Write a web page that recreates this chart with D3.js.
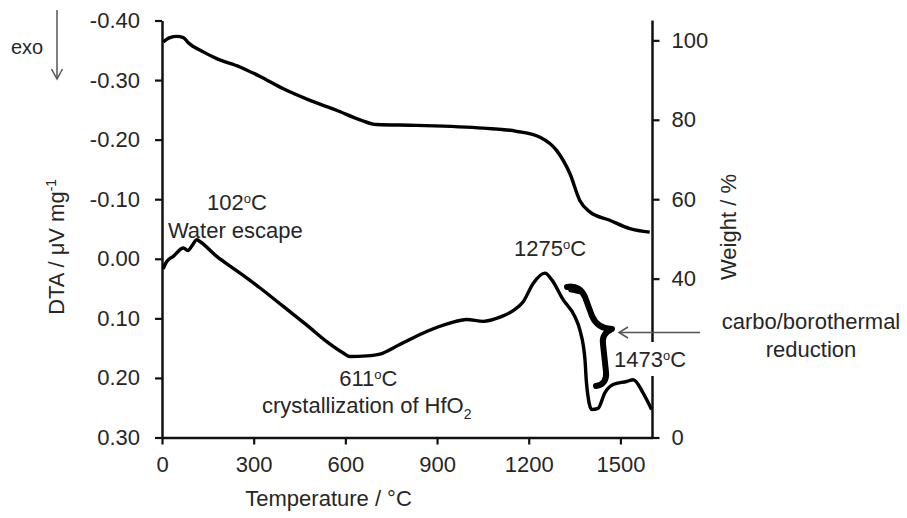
<!DOCTYPE html>
<html><head><meta charset="utf-8">
<script src="https://cdn.jsdelivr.net/npm/d3@7"></script>
<style>
body{margin:0;background:#fff;}
text{font-family:"Liberation Sans",Arial,sans-serif;fill:#262626;}
</style></head>
<body><svg id="c" width="907" height="518"></svg>
<script>
// ---- data ----
const dtaTemp  = [4,15,37,70,86,97,114,124,179,233,277,321,397,473,539,593,615,670,713,778,866,942,997,1051,1106,1149,1182,1215,1253,1275,1313,1351,1367,1384,1389,1406,1427,1449,1476,1520,1542,1574,1602];
const dtaValue = [0.017,0.005,-0.004,-0.018,-0.014,-0.021,-0.032,-0.029,-0.004,0.016,0.032,0.049,0.080,0.111,0.139,0.158,0.164,0.163,0.160,0.144,0.122,0.108,0.102,0.105,0.098,0.087,0.072,0.041,0.024,0.035,0.069,0.097,0.119,0.169,0.209,0.253,0.251,0.225,0.211,0.206,0.203,0.225,0.253];
const tgTemp   = [4,26,48,70,86,135,179,255,321,397,484,571,648,702,833,1051,1160,1237,1291,1335,1367,1400,1465,1531,1596];
const tgWeight = [99.6,100.7,101.0,100.7,99.4,97.1,95.4,93.3,90.9,87.8,84.9,82.4,80.0,78.8,78.6,77.9,77.1,75.6,72.3,66.4,59.7,56.8,54.7,52.6,51.7];
const xTicks = [0,300,600,900,1200,1500];
const yLeftTicks = [-0.40,-0.30,-0.20,-0.10,0.00,0.10,0.20,0.30];
const yLeftLabels = ["-0.40","-0.30","-0.20","-0.10","0.00","0.10","0.20","0.30"];
const yRightTicks = [0,40,60,80,100];   // the 20 tick is hidden by the 1473°C label in the original

const svg = d3.select("#c");
const x  = d3.scaleLinear([0,1605],[162,652.5]);
const yL = d3.scaleLinear([-0.40,0.30],[20.5,437.5]);
const yR = d3.scaleLinear([0,105],[437.5,20.5]);
const FS = 22;

// axes
const ax = svg.append("g").attr("transform",`translate(0,${yL(0.30)})`)
  .call(d3.axisBottom(x).tickValues(xTicks).tickFormat(d3.format("d")).tickSize(7).tickPadding(12).tickSizeOuter(0));
const al = svg.append("g").attr("transform",`translate(${x(0)},0)`)
  .call(d3.axisLeft(yL).tickValues(yLeftTicks).tickFormat((d,i)=>yLeftLabels[i]).tickSize(7).tickPadding(15).tickSizeOuter(0));
const ar = svg.append("g").attr("transform",`translate(${x(1605)},0)`)
  .call(d3.axisRight(yR).tickValues(yRightTicks).tickSize(7).tickPadding(12).tickSizeOuter(0));
[ax,al,ar].forEach(g=>{
  g.select(".domain").attr("stroke","#111").attr("stroke-width",2.5);
  g.selectAll(".tick line").attr("stroke","#111").attr("stroke-width",2.2);
  g.selectAll(".tick text").attr("font-size",FS).attr("fill","#262626").attr("font-family","Liberation Sans, Arial, sans-serif");
});
ar.select(".domain").attr("d",`M0,${yR(0)}V${yR(105)}`);

// curves
const lineDTA = d3.line().x((d,i)=>x(dtaTemp[i])).y(d=>yL(d)).curve(d3.curveMonotoneX);
const lineTG  = d3.line().x((d,i)=>x(tgTemp[i])).y(d=>yR(d)).curve(d3.curveMonotoneX);
svg.append("path").attr("d",lineTG(tgWeight)).attr("fill","none").attr("stroke","#000").attr("stroke-width",3.4).attr("stroke-linejoin","round");
svg.append("path").attr("d",lineDTA(dtaValue)).attr("fill","none").attr("stroke","#000").attr("stroke-width",3.4).attr("stroke-linejoin","round");

// axis titles
svg.append("text").attr("transform",`translate(64,${yL(-0.02)}) rotate(-90)`).attr("text-anchor","middle").attr("font-size",FS)
  .html('DTA / μV mg<tspan dy="-8" font-size="14">-1</tspan>');
svg.append("text").attr("transform",`translate(736,${yR(53)}) rotate(-90)`).attr("text-anchor","middle").attr("font-size",FS)
  .text("Weight / %");
svg.append("text").attr("x",x(545)).attr("y",506).attr("text-anchor","middle").attr("font-size",FS).text("Temperature / °C");

// exo arrow
svg.append("text").attr("x",11).attr("y",54).attr("font-size",20).text("exo");
const gray="#555";
svg.append("line").attr("x1",57).attr("x2",57).attr("y1",10).attr("y2",78).attr("stroke",gray).attr("stroke-width",1.5);
svg.append("path").attr("d","M51.5,69 L57,79 L62.5,69").attr("fill","none").attr("stroke",gray).attr("stroke-width",1.5);

// annotations
function label(xp,yp,html,anchor="middle"){
  return svg.append("text").attr("x",xp).attr("y",yp).attr("text-anchor",anchor).attr("font-size",FS).html(html);
}
const deg = '<tspan dy="-7" font-size="13">o</tspan><tspan dy="7">C</tspan>';
label(x(245),210,'102'+deg);
label(x(240),238,'Water escape');
label(x(1270),256,'1275'+deg);
label(x(675),386,'611'+deg);
label(x(670),413,'crystallization of HfO<tspan dy="6" font-size="14">2</tspan>');
// 1473 label with white background
svg.append("rect").attr("x",614).attr("y",342).attr("width",90).attr("height",34).attr("fill","#fff");
label(614,367,'1473'+deg,"start");

// carbo/borothermal arrow
svg.append("line").attr("x1",619).attr("x2",700).attr("y1",332.5).attr("y2",332.5).attr("stroke",gray).attr("stroke-width",1.5);
svg.append("path").attr("d","M628,327 L619,332.5 L628,338").attr("fill","none").attr("stroke",gray).attr("stroke-width",1.5);
label(811,329,'carbo/borothermal');
label(811,357,'reduction');

// brace
const bx = x(1320), by = yL(0.05);
svg.append("path").attr("transform",`translate(${bx},${by})`)
  .attr("d",`M${567-bx+0},${287-by} C${576-bx},${285-by} ${582-bx},${290-by} ${585-bx},${297-by} L${592-bx},${316-by} C${596-bx},${325-by} ${603-bx},${329-by} ${612-bx},${329-by} C${605-bx},${332-by} ${602-bx},${337-by} ${603-bx},${344-by} L${606-bx},${372-by} C${607-bx},${380-by} ${603-bx},${385-by} ${596-bx},${386-by}`)
  .attr("fill","none").attr("stroke","#000").attr("stroke-width",6).attr("stroke-linecap","round").attr("stroke-linejoin","round");
svg.append("path").attr("transform",`translate(${bx},${by})`)
  .attr("d",`M${566-bx},${285-by} L${577-bx},${287-by} L${583-bx},${295-by} L${569-bx},${292-by}Z`).attr("fill","#000");
</script></body></html>
